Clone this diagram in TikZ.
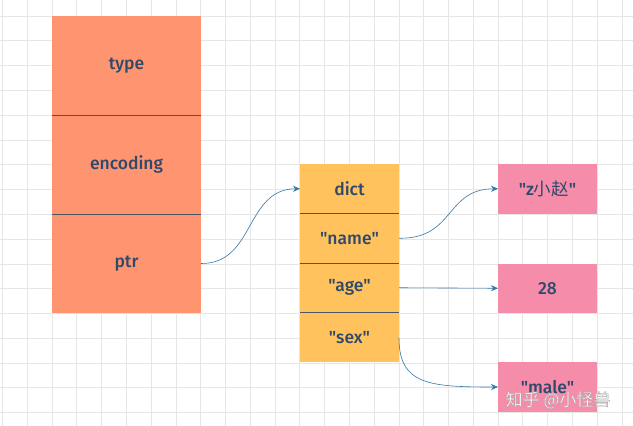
\documentclass[tikz,border=0pt]{standalone}
\usepackage{fontspec}
\setmainfont{Fira Sans}[UprightFont=* Medium, Ligatures=TeXOff]
\newfontfamily\cjk{Noto Sans CJK SC}[Ligatures=TeXOff]
\usetikzlibrary{arrows.meta}
\definecolor{gridc}{HTML}{E6E6E6}
\definecolor{redc}{HTML}{FF9470}
\definecolor{orangec}{HTML}{FFC25C}
\definecolor{pinkc}{HTML}{F58DAA}
\definecolor{txtc}{HTML}{30496A}
\definecolor{linec}{HTML}{4A5560}
\definecolor{arrc}{HTML}{3479A3}
\newcommand{\outlinedtext}[1]{\special{pdf:literal direct 2 Tr 0.3 w 0.62 G}#1\special{pdf:literal direct 0 Tr}}
\tikzset{
  cell/.style={inner sep=0pt, outer sep=0pt, text=txtc, font=\fontsize{17.5}{20}\selectfont},
  redcell/.style={cell, fill=redc, minimum width=149pt, minimum height=99pt},
  orcell/.style={cell, fill=orangec, minimum width=99pt, minimum height=49.5pt},
  pkcell/.style={cell, fill=pinkc, minimum width=99pt, minimum height=49.5pt},
  divider/.style={linec, line width=1pt},
  conn/.style={arrc, line width=0.6pt, -{Stealth[length=7pt,width=6pt]}},
}
\begin{document}
\begin{tikzpicture}[x=1pt,y=-1pt]
\useasboundingbox (0,0) rectangle (633,426);
\fill[white] (0,0) rectangle (633,426);
% grid
\foreach \i in {0,...,25} {
  \draw[gridc, line width=0.6pt] ({2.4+24.78*\i},0) -- ({2.4+24.78*\i},426);
}
\foreach \j in {0,...,17} {
  \draw[gridc, line width=0.6pt] (0,{-8.78+24.78*\j}) -- (633,{-8.78+24.78*\j});
}
% red object
\node[redcell] (type) at (126.5,65.5) {type};
\node[redcell] (encoding) at (126.5,164.5) {encoding};
\node[redcell] (ptr) at (126.5,263.5) {ptr};
\draw[divider] (type.south west) -- (type.south east);
\draw[divider] (encoding.south west) -- (encoding.south east);
% orange dict
\node[orcell] (dict) at (349.5,188.75) {dict};
\node[orcell] (name) at (349.5,238.25) {"name"};
\node[orcell] (age) at (349.5,287.75) {"age"};
\node[orcell] (sex) at (349.5,337.25) {"sex"};
\draw[divider] (dict.south west) -- (dict.south east);
\draw[divider] (name.south west) -- (name.south east);
\draw[divider] (age.south west) -- (age.south east);
% pink values
\node[pkcell] (vname) at (547.5,188.75) {"z{\cjk 小赵}"};
\node[pkcell] (vage) at (547.5,288.25) {28};
\node[pkcell] (vsex) at (547.5,387) {"male"};
% connectors
\draw[conn] (ptr.east) .. controls (255,264) and (245,189) .. (dict.west);
\draw[conn] (name.east) .. controls (455,239) and (445,189) .. (vname.west);
\draw[conn] (age.east) -- (vage.west);
\coordinate (sexout) at (399,338);
\draw[conn] (sexout) .. controls (399,385) and (430,387) .. (vsex.west);
% watermark
\node[inner sep=0pt, text=white, font=\cjk\fontsize{17}{20}\selectfont] (wm) at (558,400) {\outlinedtext{知乎 @小怪兽}};
\end{tikzpicture}
\end{document}
